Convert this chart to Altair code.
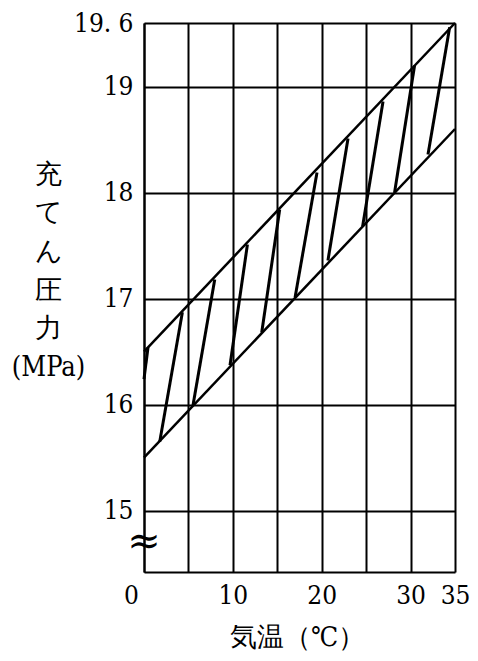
import altair as alt
import pandas as pd

# Boundary lines (filling pressure band)
band_x = [0, 35]
lower_y = [15.5, 18.6]
upper_y = [16.5, 19.6]

# Hatch strokes: lower end -> upper end
hatch_x1 = [0.0, 1.77, 5.51, 9.68, 13.25, 17.0, 20.7, 24.6, 28.2, 31.96]
hatch_y1 = [16.24, 15.65, 15.99, 16.37, 16.68, 17.01, 17.36, 17.68, 18.0, 18.36]
hatch_x2 = [0.45, 4.32, 7.96, 11.64, 15.27, 19.47, 22.96, 26.9, 30.45, 34.4]
hatch_y2 = [16.54, 16.87, 17.18, 17.51, 17.84, 18.19, 18.51, 18.86, 19.2, 19.56]

x_ticks = [0, 5, 10, 15, 20, 25, 30, 35]
y_ticks = [15, 16, 17, 18, 19, 19.6]
y_title = ["充", "て", "ん", "圧", "力", "(MPa)"]
x_title = "気温（℃）"

FONT = "DejaVu Serif Condensed"

bands = pd.DataFrame({
    "x": [band_x[0], band_x[0]],
    "x2": [band_x[1], band_x[1]],
    "y": [lower_y[0], upper_y[0]],
    "y2": [lower_y[1], upper_y[1]],
})
hatch = pd.DataFrame({"x": hatch_x1, "y": hatch_y1, "x2": hatch_x2, "y2": hatch_y2})
brk = pd.DataFrame({"x": [0], "y": [14.70], "t": ["≈"]})

xscale = alt.Scale(domain=[0, 35], nice=False, zero=False)
yscale = alt.Scale(domain=[14.42, 19.6], nice=False, zero=False)

xaxis = alt.Axis(
    values=x_ticks,
    labelExpr="(datum.value % 10 == 0 || datum.value == 35) ? format(datum.value, 'd') : ''",
    grid=True, gridColor="black", gridWidth=2, gridOpacity=1,
    ticks=False, domain=True, domainColor="black", domainWidth=2,
    labelFont=FONT, labelFontSize=26, labelColor="black", labelPadding=10,
    labelOffset={"condition": {"test": "datum.value == 0", "value": -13},
                 "value": 0},
    labelFlush=False,
    title=x_title, titleFont=FONT, titleFontSize=27, titleFontWeight="normal",
    titleColor="black", titleX=153, titleY=65, titleBaseline="middle", titleAlign="center",
)
yaxis = alt.Axis(
    values=y_ticks,
    labelExpr="datum.value == 19.6 ? '19. 6' : format(datum.value, 'd')",
    grid=True, gridColor="black", gridWidth=2, gridOpacity=1,
    ticks=False, domain=True, domainColor="black", domainWidth=2,
    labelFont=FONT, labelFontSize=26, labelColor="black", labelPadding=11,
    labelFlush=False,
    title=y_title, titleFont=FONT, titleFontSize=27, titleFontWeight="normal",
    titleColor="black", titleAngle=0, titleX=-96, titleY=138, titleBaseline="top",
    titleAlign="center", titleLineHeight=38.7,
)

band_layer = alt.Chart(bands).mark_rule(color="black", strokeWidth=2.5).encode(
    x=alt.X("x:Q", scale=xscale, axis=xaxis),
    y=alt.Y("y:Q", scale=yscale, axis=yaxis),
    x2="x2:Q",
    y2="y2:Q",
)
hatch_layer = alt.Chart(hatch).mark_rule(color="black", strokeWidth=3).encode(
    x="x:Q", y="y:Q", x2="x2:Q", y2="y2:Q"
)
brk_layer = alt.Chart(brk).mark_text(
    font="DejaVu Serif", fontSize=40, color="black", baseline="middle", align="center",
    fontWeight=300
).encode(x="x:Q", y="y:Q", text="t:N")

chart = alt.layer(band_layer, hatch_layer, brk_layer).properties(
    width=311, height=549,
    autosize=alt.AutoSizeParams(type="none"),
    padding={"left": 136, "top": 15, "right": 15, "bottom": 81},
).configure_view(stroke="black", strokeWidth=2).configure(background="white")

chart.save("out.html", embed_options={"renderer": "svg", "actions": False})
